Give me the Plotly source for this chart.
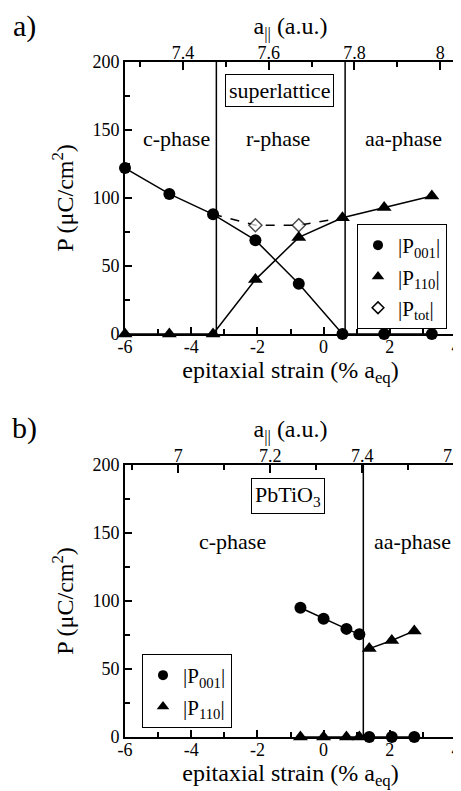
import plotly.graph_objects as go

# ---- data ---------------------------------------------------------------
# a) superlattice
STRAIN_SL = [-6.0, -4.66, -3.34, -2.06, -0.75, 0.57, 1.83, 3.27]
P001_SL = [122, 103, 88, 69, 37, 0, 0, 0]
P110_SL = [0, 0, 0, 40, 71, 85.5, 93, 101.5]
STRAIN_TOT_SL = [-3.34, -2.06, -0.75, 0.57]
PTOT_SL = [88, 80, 80, 85.5]
SL_BOUNDARIES = [-3.24, 0.65]
SL_A_RANGE = [7.265, 8.037]

# b) PbTiO3
STRAIN_PT = [-0.70, 0.0, 0.69, 1.08, 1.38, 2.06, 2.74]
P001_PT = [95, 87, 79.5, 75.5, 0, 0, 0]
P110_PT = [0, 0, 0, 0, 65, 71, 78]
PT_BOUNDARY = 1.2
PT_A_RANGE = [6.884, 7.604]

STRAIN_TICKS = [-6, -4, -2, 0, 2, 4]
STRAIN_TICKTEXT = ["-6", "-4", "-2", "0", "2", "4"]

SERIF = "Liberation Serif, Times New Roman, serif"
BLACK = "#000000"
TICK_FONT = dict(family=SERIF, size=18, color=BLACK)
TITLE_FONT = dict(family=SERIF, size=24, color=BLACK)
LABEL_FONT = dict(family=SERIF, size=22, color=BLACK)
LEGEND_FONT = dict(family=SERIF, size=21, color=BLACK)

# the page body adds an 8px margin, so the figure is drawn 8px in from the corner
OFF = 8
W, H = 461 - OFF, 791 - OFF


def px(x):
    return (x - OFF) / W


def py(y):
    return 1 - (y - OFF) / H


X_DOM = [px(125), px(456)]
Y_DOM_A = [py(334), py(62)]
Y_DOM_B = [py(737), py(465)]

circle = dict(symbol="circle", size=12, color=BLACK)
triangle = dict(symbol="triangle-up", size=13, color=BLACK)
diamond = dict(symbol="diamond", size=10, color="white", line=dict(color=BLACK, width=1.5))
line_style = dict(color=BLACK, width=1.5)

fig = go.Figure()


def add_series(x, y, marker, xaxis, yaxis, dash=None, msize=None):
    mk = dict(marker)
    if msize is not None:
        mk["size"] = msize
    fig.add_trace(go.Scatter(
        x=x, y=y, mode="lines+markers", xaxis=xaxis, yaxis=yaxis,
        line=dict(line_style, dash=dash) if dash else line_style,
        marker=mk, showlegend=False, cliponaxis=False,
        hoverinfo="x+y",
    ))


# panel a
add_series(STRAIN_TOT_SL, PTOT_SL, diamond, "x", "y", dash="dash", msize=[0, 10, 10, 0])
add_series(STRAIN_SL, P001_SL, circle, "x", "y")
add_series(STRAIN_SL, P110_SL, triangle, "x", "y")

# panel b: separate segments on each side of the phase boundary
left = [i for i, s in enumerate(STRAIN_PT) if s < PT_BOUNDARY]
right = [i for i, s in enumerate(STRAIN_PT) if s > PT_BOUNDARY]
for idx in (left, right):
    xs = [STRAIN_PT[i] for i in idx]
    add_series(xs, [P001_PT[i] for i in idx], circle, "x2", "y2")
    add_series(xs, [P110_PT[i] for i in idx], triangle, "x2", "y2")

# top lattice-constant axes need a (blank) trace to be drawn
for xa, ya, rng in (("x3", "y", SL_A_RANGE), ("x4", "y2", PT_A_RANGE)):
    fig.add_trace(go.Scatter(x=rng, y=[None, None], mode="lines", xaxis=xa, yaxis=ya,
                             showlegend=False, hoverinfo="skip"))

# legend-only entries (markers without lines)
small_circle = dict(circle, size=10)
small_tri = dict(triangle, size=11)
small_dia = dict(diamond, size=9)
legend_items = [
    ("|P<sub>001</sub>|", small_circle, "legend", "x", "y"),
    ("|P<sub>110</sub>|", small_tri, "legend", "x", "y"),
    ("|P<sub>tot</sub>|", small_dia, "legend", "x", "y"),
    ("|P<sub>001</sub>|", small_circle, "legend2", "x2", "y2"),
    ("|P<sub>110</sub>|", small_tri, "legend2", "x2", "y2"),
]
for k, (name, mk, leg, xa, ya) in enumerate(legend_items):
    fig.add_trace(go.Scatter(x=[None], y=[None], mode="markers", name=name,
                             marker=mk, legend=leg, legendgroup=f"g{k}",
                             xaxis=xa, yaxis=ya))

# phase boundaries
for xb in SL_BOUNDARIES:
    fig.add_shape(type="line", xref="x", yref="y domain", x0=xb, x1=xb, y0=0, y1=1,
                  line=line_style)
fig.add_shape(type="line", xref="x2", yref="y2 domain", x0=PT_BOUNDARY, x1=PT_BOUNDARY,
              y0=0, y1=1, line=line_style)

bottom_axis = dict(
    range=[-6, 4], tickvals=STRAIN_TICKS, ticktext=STRAIN_TICKTEXT,
    ticks="inside", ticklen=7, tickwidth=1.5, tickcolor=BLACK,
    minor=dict(dtick=1, tick0=-5, ticks="inside", ticklen=5, tickwidth=1.5, tickcolor=BLACK),
    showline=True, linewidth=2, linecolor=BLACK, mirror=True,
    showgrid=False, zeroline=False, tickfont=TICK_FONT, ticklabeloverflow="allow",
    ticklabelstandoff=-5,
    title=dict(text="epitaxial strain (% a<sub>eq</sub>)", font=TITLE_FONT, standoff=0),
    automargin=False, domain=X_DOM,
)
left_axis = dict(
    range=[0, 200], dtick=50, ticks="inside", ticklen=7, tickwidth=1.5, tickcolor=BLACK,
    minor=dict(dtick=25, ticks="inside", ticklen=5, tickwidth=1.5, tickcolor=BLACK),
    showline=True, linewidth=2, linecolor=BLACK, mirror=True,
    showgrid=False, zeroline=False, tickfont=TICK_FONT, ticklabeloverflow="allow",
    title=dict(text="P (μC/cm<sup>2</sup>)", font=TITLE_FONT, standoff=12),
    automargin=False,
)
top_axis = dict(
    side="top", dtick=0.2, ticks="inside", ticklen=8, tickwidth=1.5, tickcolor=BLACK,
    minor=dict(dtick=0.1, ticks="inside", ticklen=5, tickwidth=1.5, tickcolor=BLACK),
    showline=True, linewidth=2, linecolor=BLACK, showgrid=False, zeroline=False,
    tickfont=TICK_FONT, ticklabeloverflow="allow", ticklabelstandoff=-6,
    title=dict(text="a<sub>||</sub> (a.u.)", font=TITLE_FONT, standoff=0),
    automargin=False,
)

legend_common = dict(xanchor="left", yanchor="top", bordercolor=BLACK, borderwidth=1,
                     bgcolor="white", font=LEGEND_FONT, itemsizing="trace",
                     itemwidth=30, tracegroupgap=1)

fig.update_layout(
    width=W, height=H,
    margin=dict(l=0, r=0, t=0, b=0),
    paper_bgcolor="white", plot_bgcolor="white",
    font=dict(family=SERIF, color=BLACK),
    xaxis=dict(bottom_axis, anchor="y"),
    yaxis=dict(left_axis, anchor="x", domain=Y_DOM_A),
    xaxis2=dict(bottom_axis, anchor="y2"),
    yaxis2=dict(left_axis, anchor="x2", domain=Y_DOM_B),
    xaxis3=dict(top_axis, overlaying="x", anchor="y", range=SL_A_RANGE),
    xaxis4=dict(top_axis, overlaying="x2", anchor="y2", range=PT_A_RANGE),
    legend=dict(legend_common, x=px(357), y=py(224)),
    legend2=dict(legend_common, x=px(142), y=py(654)),
)

# text labels inside the panels
texts = [
    ("x", "y", -4.43, 144, "c-phase", False),
    ("x", "y", -1.37, 144, "r-phase", False),
    ("x", "y", 2.41, 144, "aa-phase", False),
    ("x", "y", -1.33, 179, "superlattice", True),
    ("x2", "y2", -2.75, 144, "c-phase", False),
    ("x2", "y2", 2.69, 144, "aa-phase", False),
    ("x2", "y2", -1.07, 177, "PbTiO<sub>3</sub>", True),
]
for xr, yr, xv, yv, txt, boxed in texts:
    fig.add_annotation(x=xv, y=yv, xref=xr, yref=yr, text=txt, showarrow=False,
                       font=LABEL_FONT,
                       bordercolor=BLACK if boxed else None,
                       borderwidth=1 if boxed else 0, borderpad=3,
                       bgcolor="white" if boxed else None)

for lbl, yp in (("a)", 26), ("b)", 428)):
    fig.add_annotation(x=px(24), y=py(yp), xref="paper", yref="paper",
                       xanchor="center", yanchor="middle",
                       text=lbl, showarrow=False,
                       font=dict(family=SERIF, size=30, color=BLACK))

fig.write_html("out.html")
